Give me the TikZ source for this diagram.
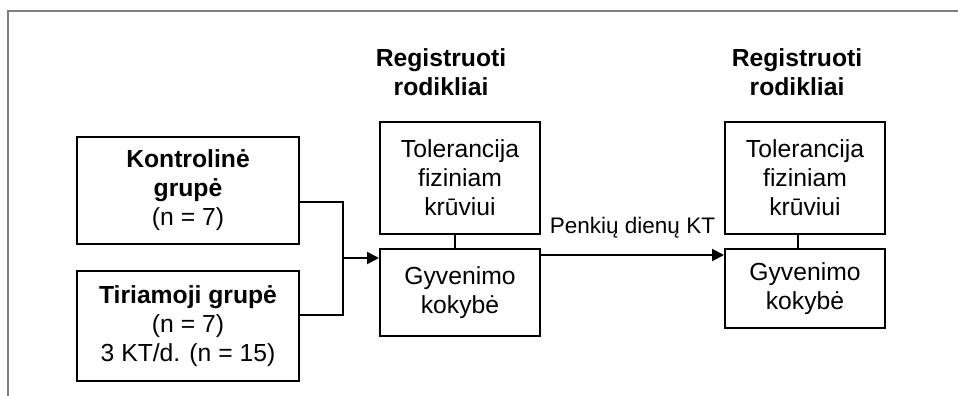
\documentclass[tikz,border=0pt]{standalone}
\usepackage{fontspec}
\setmainfont{Liberation Sans}
\usetikzlibrary{arrows.meta}

\begin{document}
\begin{tikzpicture}[x=1pt,y=-1pt,font=\fontsize{24.7}{29}\selectfont,
    boite/.style={draw,line width=2pt,align=center,inner sep=0pt},
    titre/.style={align=center,font=\fontsize{24.7}{29}\selectfont\bfseries},
    lien/.style={line width=2pt},
    fleche/.style={line width=2pt,-{Triangle[length=12pt,width=12pt]}}]
    \useasboundingbox (0,0) rectangle (958,396);
    % cadre
    \draw[gray,line width=1.5pt] (8,396) -- (8,11) -- (958,11);
    % les groupes
    \node[boite,minimum width=222pt,minimum height=107pt] (kontrol) at (188,190.5)
      {\textbf{Kontrolinė}\\\textbf{grupė}\\(n = 7)};
    \node[boite,minimum width=222pt,minimum height=110pt] (tiriam) at (188,326)
      {\textbf{Tiriamoji grupė}\\(n = 7)\\3 KT/d. (n = 15)};
    % les rodikliai
    \node[titre] (reg1) at (441,72) {Registruoti\\rodikliai};
    \node[titre] (reg2) at (797,72) {Registruoti\\rodikliai};
    \node[boite,minimum width=160pt,minimum height=112pt] (tol1) at (460,178)
      {Tolerancija\\fiziniam\\krūviui};
    \node[boite,minimum width=160pt,minimum height=87pt] (gyv1) at (460,292.5)
      {Gyvenimo\\kokybė};
    \node[boite,minimum width=160pt,minimum height=112pt] (tol2) at (805,178)
      {Tolerancija\\fiziniam\\krūviui};
    \node[boite,minimum width=160pt,minimum height=79pt] (gyv2) at (805,288.5)
      {Gyvenimo\\kokybė};
    \coordinate (jonction) at (343,258);
    % les liaisons
    \draw[lien] ([yshift=-11pt]kontrol.east) -| (jonction) |- ([yshift=11pt]tiriam.east);
    \draw[fleche] (jonction) -- (jonction -| gyv1.west);
    \draw[lien] ([xshift=-5pt]tol1.south) -- ([xshift=-5pt]gyv1.north);
    \draw[lien] ([xshift=-7pt]tol2.south) -- ([xshift=-7pt]gyv2.north);
    \draw[fleche] ([yshift=-7pt]gyv1.north east) -- ([yshift=-7pt]gyv1.north east -| gyv2.west)
      node[midway,above=12pt,font=\fontsize{22.5}{27}\selectfont] {Penkių dienų KT};
\end{tikzpicture}
\end{document}
